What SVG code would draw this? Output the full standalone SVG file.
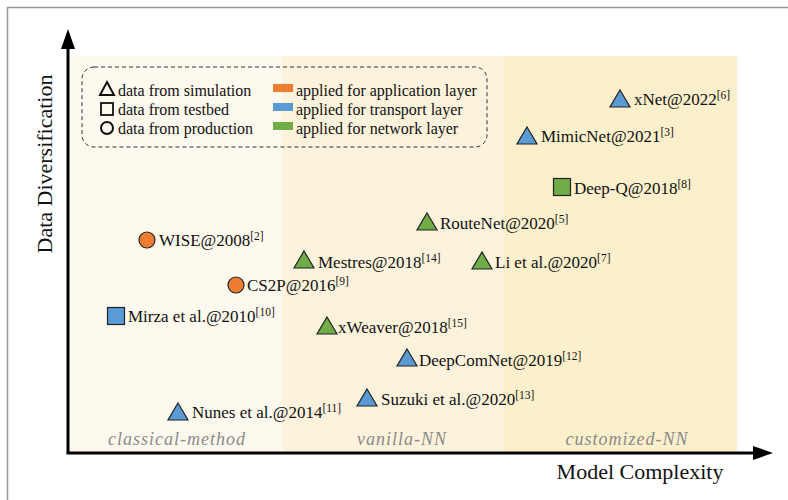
<svg xmlns="http://www.w3.org/2000/svg" width="788" height="500" viewBox="0 0 788 500">
<defs>
<style>
text{font-family:"Liberation Serif","Times New Roman",serif;fill:#111}
.lbl{font-size:17px}
.sup{font-size:11.5px}
.leg{font-size:16px}
.ax{font-size:22px}
.reg{font-size:18px;font-style:italic;fill:#8a8a8a;letter-spacing:1px}
.mk{stroke:#222;stroke-width:1.2}
.o{fill:#ed7d31}.b{fill:#5b9bd5}.g{fill:#70ad47}
</style>
<marker id="arr" viewBox="0 0 20 14" refX="2" refY="7" markerWidth="20" markerHeight="14" markerUnits="userSpaceOnUse" orient="auto">
<path d="M0,0 L20,7 L0,14 Z" fill="#000"/>
</marker>
<path id="tri" d="M0,-9 L10,8 L-10,8 Z"/>
</defs>
<rect x="7.5" y="7.5" width="790" height="500" fill="#fff" stroke="#999" stroke-width="1.5"/>
<g id="regions">
<rect x="69" y="56" width="213" height="397" fill="#fef9ee"/>
<rect x="282" y="56" width="222" height="397" fill="#fdf3dc"/>
<rect x="504" y="56" width="233" height="397" fill="#fcefcb"/>
<text class="reg" x="177" y="445" text-anchor="middle">classical-method</text>
<text class="reg" x="402" y="445" text-anchor="middle">vanilla-NN</text>
<text class="reg" x="627" y="445" text-anchor="middle">customized-NN</text>
</g>
<g id="connectors">
<line x1="68" y1="453" x2="68" y2="47" stroke="#000" stroke-width="3" marker-end="url(#arr)"/>
<line x1="66.5" y1="453" x2="755" y2="453" stroke="#000" stroke-width="3" marker-end="url(#arr)"/>
</g>
<text class="ax" transform="translate(52,164) rotate(-90)" text-anchor="middle">Data Diversification</text>
<text class="ax" x="640" y="479" text-anchor="middle">Model Complexity</text>
<g id="legend">
<rect x="82" y="67" width="405" height="80" rx="12" fill="none" stroke="#333" stroke-width="1" stroke-dasharray="4,3"/>
<path d="M107,82 L114,95 L100,95 Z" fill="none" stroke="#111" stroke-width="2"/>
<text class="leg" x="118" y="96">data from simulation</text>
<rect x="101" y="103" width="12" height="12" fill="none" stroke="#111" stroke-width="1.8"/>
<text class="leg" x="118" y="115">data from testbed</text>
<circle cx="107" cy="128" r="6" fill="none" stroke="#111" stroke-width="2"/>
<text class="leg" x="118" y="134">data from production</text>
<rect x="273" y="84" width="20" height="8" fill="#ed7d31"/>
<text class="leg" x="296" y="96">applied for application layer</text>
<rect x="273" y="103" width="20" height="8" fill="#5b9bd5"/>
<text class="leg" x="296" y="115">applied for transport layer</text>
<rect x="273" y="122" width="20" height="8" fill="#70ad47"/>
<text class="leg" x="296" y="134">applied for network layer</text>
</g>
<g id="xnet"><use href="#tri" x="620" y="99" class="mk b"/><text class="lbl" x="634" y="105">xNet@2022<tspan class="sup" dy="-6">[6]</tspan></text></g>
<g id="mimicnet"><use href="#tri" x="527" y="136" class="mk b"/><text class="lbl" x="541" y="142">MimicNet@2021<tspan class="sup" dy="-6">[3]</tspan></text></g>
<g id="deepq"><rect x="553.5" y="178.5" width="17" height="17" class="mk g"/><text class="lbl" x="574" y="194">Deep-Q@2018<tspan class="sup" dy="-6">[8]</tspan></text></g>
<g id="routenet"><use href="#tri" x="427" y="222" class="mk g"/><text class="lbl" x="440" y="229">RouteNet@2020<tspan class="sup" dy="-6">[5]</tspan></text></g>
<g id="mestres"><use href="#tri" x="304" y="260" class="mk g"/><text class="lbl" x="318" y="268">Mestres@2018<tspan class="sup" dy="-6">[14]</tspan></text></g>
<g id="li"><use href="#tri" x="482" y="261" class="mk g"/><text class="lbl" x="495" y="268">Li et al.@2020<tspan class="sup" dy="-6">[7]</tspan></text></g>
<g id="wise"><circle cx="147" cy="240" r="8" class="mk o"/><text class="lbl" x="159" y="246">WISE@2008<tspan class="sup" dy="-6">[2]</tspan></text></g>
<g id="cs2p"><circle cx="236" cy="285" r="8" class="mk o"/><text class="lbl" x="247" y="291">CS2P@2016<tspan class="sup" dy="-6">[9]</tspan></text></g>
<g id="mirza"><rect x="107.5" y="307.5" width="17" height="17" class="mk b"/><text class="lbl" x="128" y="322">Mirza et al.@2010<tspan class="sup" dy="-6">[10]</tspan></text></g>
<g id="xweaver"><use href="#tri" x="327" y="326" class="mk g"/><text class="lbl" x="338" y="333">xWeaver@2018<tspan class="sup" dy="-6">[15]</tspan></text></g>
<g id="deepcomnet"><use href="#tri" x="407" y="358" class="mk b"/><text class="lbl" x="419" y="366">DeepComNet@2019<tspan class="sup" dy="-6">[12]</tspan></text></g>
<g id="suzuki"><use href="#tri" x="367" y="398" class="mk b"/><text class="lbl" x="381" y="405">Suzuki et al.@2020<tspan class="sup" dy="-6">[13]</tspan></text></g>
<g id="nunes"><use href="#tri" x="178" y="412" class="mk b"/><text class="lbl" x="192" y="418">Nunes et al.@2014<tspan class="sup" dy="-6">[11]</tspan></text></g>
</svg>
